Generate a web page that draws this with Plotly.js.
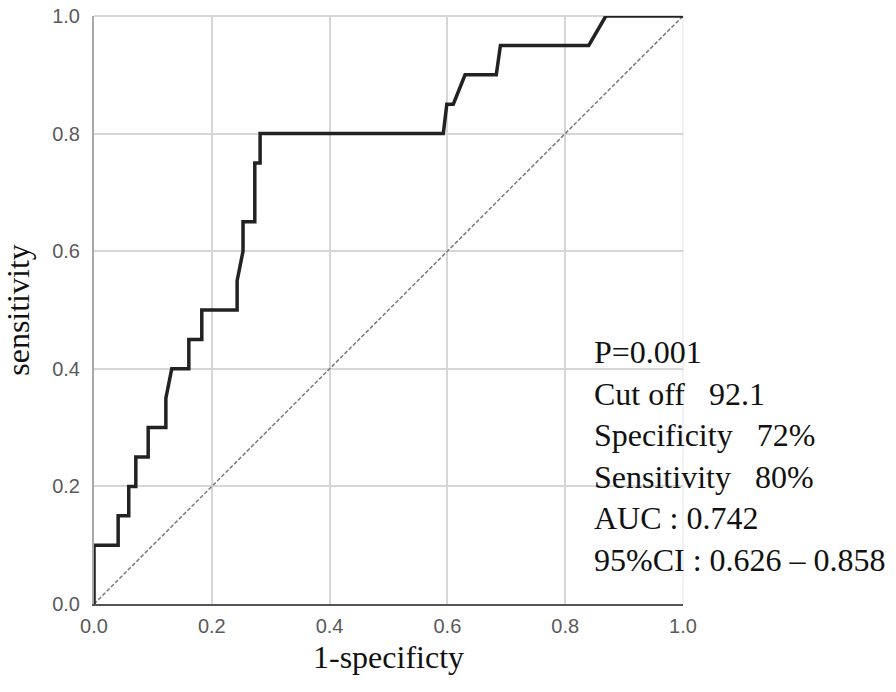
<!DOCTYPE html>
<html>
<head>
<meta charset="utf-8">
<script src="https://cdn.plot.ly/plotly-3.0.1.min.js"></script>
<style>html,body{margin:0;padding:0;background:#fff;}#chart{width:896px;height:692px;}</style>
</head>
<body>
<div id="chart"></div>
<script>
// ROC curve points (1-specificity, sensitivity)
var rocFpr = [0, 0, 0.041, 0.041, 0.059, 0.059, 0.071, 0.071, 0.092, 0.092, 0.122, 0.122, 0.132, 0.161, 0.161, 0.183, 0.183, 0.243, 0.243, 0.253, 0.253, 0.273, 0.273, 0.282, 0.282, 0.593, 0.599, 0.61, 0.63, 0.683, 0.69, 0.84, 0.869, 1.0];
var rocTpr = [0, 0.10, 0.10, 0.15, 0.15, 0.20, 0.20, 0.25, 0.25, 0.30, 0.30, 0.35, 0.40, 0.40, 0.45, 0.45, 0.50, 0.50, 0.55, 0.60, 0.65, 0.65, 0.75, 0.75, 0.80, 0.80, 0.85, 0.85, 0.90, 0.90, 0.95, 0.95, 1.0, 1.0];
// reference diagonal
var refX = [0, 1];
var refY = [0, 1];
var tickVals = [0, 0.2, 0.4, 0.6, 0.8, 1.0];
var tickText = ['0.0', '0.2', '0.4', '0.6', '0.8', '1.0'];
var statLines = ['P=0.001', 'Cut off\u00a0\u00a0 92.1', 'Specificity\u00a0\u00a0 72%', 'Sensitivity\u00a0\u00a0 80%', 'AUC : 0.742', '95%CI : 0.626 \u2013 0.858'];

var traces = [
  {x: refX, y: refY, type: 'scatter', mode: 'lines', line: {color: '#7a7a7a', width: 1.5, dash: '4px,2px'}, hoverinfo: 'skip', showlegend: false},
  {x: rocFpr, y: rocTpr, type: 'scatter', mode: 'lines', line: {color: '#222222', width: 3.5}, showlegend: false, cliponaxis: false}
];

var tickFont = {family: 'Liberation Sans, Arial, sans-serif', size: 20, color: '#5a5a5a'};
var titleFont = {family: 'Liberation Serif, Times New Roman, serif', size: 32, color: '#111111'};

var layout = {
  width: 896, height: 692,
  margin: {l: 94, r: 213, t: 16, b: 88, pad: 0},
  paper_bgcolor: '#ffffff', plot_bgcolor: '#ffffff',
  showlegend: false,
  xaxis: {
    range: [0, 1], tickvals: tickVals, ticktext: tickText, ticks: '',
    showgrid: true, gridcolor: '#d6d6d6', gridwidth: 2,
    showline: true, linecolor: '#555555', linewidth: 2,
    zeroline: false, tickfont: tickFont, ticklabelstandoff: 3,
    title: {text: '1-specificty', font: titleFont, standoff: 10}
  },
  yaxis: {
    range: [0, 1], tickvals: tickVals, ticktext: tickText, ticks: '',
    showgrid: true, gridcolor: '#d6d6d6', gridwidth: 2,
    showline: true, linecolor: '#a8a8a8', linewidth: 2,
    zeroline: false, tickfont: tickFont, ticklabelstandoff: 8,
    title: {text: 'sensitivity', font: titleFont, standoff: 24}
  },
  shapes: [
    {type: 'line', xref: 'paper', yref: 'paper', x0: 0, x1: 1, y0: 1, y1: 1, line: {color: '#d6d6d6', width: 2}, layer: 'below'},
    {type: 'line', xref: 'paper', yref: 'paper', x0: 1, x1: 1, y0: 0, y1: 1, line: {color: '#ececec', width: 1.5}, layer: 'below'}
  ],
  annotations: [{
    xref: 'paper', yref: 'paper', x: 0.8455, y: 0.2517, xanchor: 'left', yanchor: 'middle',
    align: 'left', showarrow: false,
    text: statLines.join('<br>'),
    font: {family: 'Liberation Serif, Times New Roman, serif', size: 32, color: '#111111'}
  }]
};

Plotly.newPlot('chart', traces, layout, {staticPlot: true, displayModeBar: false});
</script>
</body>
</html>
